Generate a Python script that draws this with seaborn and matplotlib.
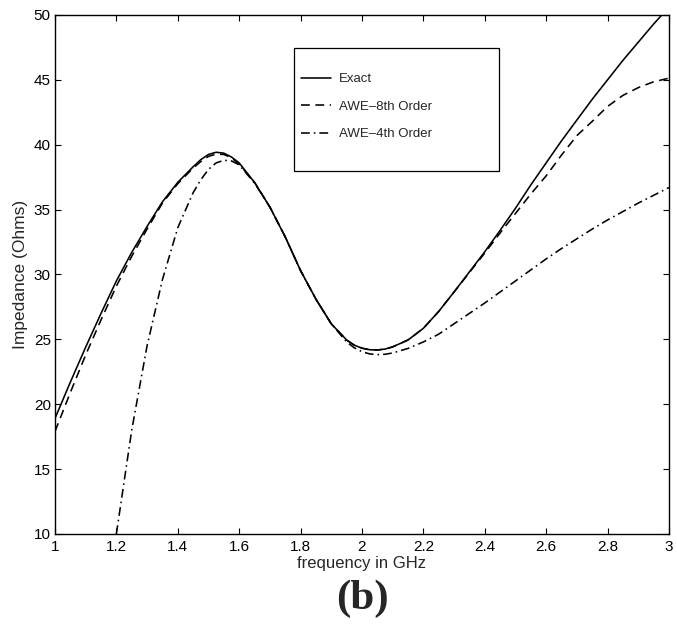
import numpy as np
import pandas as pd
import matplotlib
matplotlib.use("Agg")
import matplotlib.pyplot as plt
from matplotlib.patches import Rectangle
from matplotlib.lines import Line2D
import seaborn as sns

# ---------------- data ----------------
freq_exact = [1.00, 1.05, 1.10, 1.15, 1.20, 1.25, 1.30, 1.35, 1.40, 1.45,
              1.475, 1.50, 1.525, 1.55, 1.575, 1.60, 1.65, 1.70, 1.75, 1.80,
              1.85, 1.90, 1.95, 1.975, 2.00, 2.025, 2.05, 2.075, 2.10, 2.15,
              2.20, 2.25, 2.30, 2.35, 2.40, 2.45, 2.50, 2.55, 2.60, 2.65,
              2.70, 2.75, 2.80, 2.85, 2.90, 2.95, 3.00]
z_exact = [18.9, 21.7, 24.4, 27.0, 29.5, 31.7, 33.7, 35.6, 37.1, 38.3,
           38.85, 39.25, 39.42, 39.35, 39.05, 38.6, 37.1, 35.2, 32.9, 30.3,
           28.1, 26.2, 24.95, 24.55, 24.32, 24.2, 24.18, 24.25, 24.42, 24.95,
           25.85, 27.15, 28.65, 30.2, 31.75, 33.4, 35.1, 36.9, 38.6, 40.3,
           41.9, 43.5, 45.0, 46.5, 47.9, 49.3, 50.6]

freq_awe8 = [1.00, 1.05, 1.10, 1.15, 1.20, 1.25, 1.30, 1.35, 1.40, 1.45,
             1.475, 1.50, 1.525, 1.55, 1.575, 1.60, 1.65, 1.70, 1.75, 1.80,
             1.85, 1.90, 1.95, 1.975, 2.00, 2.025, 2.05, 2.075, 2.10, 2.15,
             2.20, 2.25, 2.30, 2.35, 2.40, 2.45, 2.50, 2.55, 2.60, 2.65,
             2.70, 2.75, 2.80, 2.85, 2.90, 2.95, 3.00]
z_awe8 = [17.9, 20.9, 23.8, 26.5, 29.1, 31.4, 33.5, 35.5, 37.0, 38.2,
          38.7, 39.1, 39.28, 39.25, 39.0, 38.5, 37.1, 35.2, 32.9, 30.3,
          28.1, 26.2, 24.95, 24.55, 24.32, 24.2, 24.18, 24.25, 24.42, 24.95,
          25.85, 27.15, 28.65, 30.15, 31.65, 33.2, 34.7, 36.2, 37.6, 39.2,
          40.7, 41.8, 42.95, 43.8, 44.4, 44.85, 45.13]

freq_awe4 = [1.20, 1.25, 1.30, 1.35, 1.40, 1.45, 1.475, 1.50, 1.525, 1.55,
             1.575, 1.60, 1.65, 1.70, 1.75, 1.80, 1.85, 1.90, 1.95, 1.975,
             2.00, 2.025, 2.05, 2.075, 2.10, 2.15, 2.20, 2.25, 2.30, 2.35,
             2.40, 2.45, 2.50, 2.55, 2.60, 2.65, 2.70, 2.75, 2.80, 2.85,
             2.90, 2.95, 3.00]
z_awe4 = [10.0, 18.0, 24.5, 29.6, 33.6, 36.3, 37.3, 38.1, 38.6, 38.8,
          38.75, 38.45, 37.05, 35.2, 32.9, 30.3, 28.1, 26.2, 24.8, 24.35,
          24.05, 23.88, 23.82, 23.85, 23.95, 24.3, 24.8, 25.4, 26.2, 27.0,
          27.8, 28.65, 29.5, 30.35, 31.2, 32.0, 32.75, 33.5, 34.2, 34.85,
          35.5, 36.1, 36.7]

series_names = ["Exact", "AWE\u20138th Order", "AWE\u20134th Order"]
x_ticks = [1, 1.2, 1.4, 1.6, 1.8, 2, 2.2, 2.4, 2.6, 2.8, 3]
x_ticklabels = ["1", "1.2", "1.4", "1.6", "1.8", "2", "2.2", "2.4", "2.6", "2.8", "3"]
y_ticks = [10, 15, 20, 25, 30, 35, 40, 45, 50]

df = pd.concat([
    pd.DataFrame({"f": freq_exact, "z": z_exact, "s": series_names[0]}),
    pd.DataFrame({"f": freq_awe8, "z": z_awe8, "s": series_names[1]}),
    pd.DataFrame({"f": freq_awe4, "z": z_awe4, "s": series_names[2]}),
], ignore_index=True)

# ---------------- style ----------------
sns.set_style("ticks")
plt.rcParams["font.family"] = ["Liberation Sans", "DejaVu Sans"]

fig = plt.figure(figsize=(6.77, 6.32), dpi=100)
ax = fig.add_axes([0.0812, 0.1551, 0.9069, 0.8212])

dash_map = {series_names[0]: "",
            series_names[1]: (5.5, 3.5),
            series_names[2]: (5.5, 2.5, 1, 2.5)}

sns.lineplot(data=df, x="f", y="z", style="s", dashes=dash_map,
             color="black", linewidth=1.15, legend=False, ax=ax,
             estimator=None, sort=False)

ax.set_xlim(1, 3)
ax.set_ylim(10, 50)
ax.set_xticks(x_ticks)
ax.set_xticklabels(x_ticklabels)
ax.set_yticks(y_ticks)
ax.tick_params(direction="in", length=4.5, width=0.8, top=True, right=True,
               labelsize=11, colors="black", pad=4)
ax.tick_params(axis="y", pad=3)
for sp in ax.spines.values():
    sp.set_visible(True)
    sp.set_color("black")
    sp.set_linewidth(1.0)

ax.set_xlabel("frequency in GHz", fontsize=12, labelpad=2)
ax.set_ylabel("Impedance (Ohms)", fontsize=12.5, labelpad=4)

# legend
handles = [Line2D([], [], color="black", lw=1.15, linestyle="-"),
           Line2D([], [], color="black", lw=1.15, dashes=dash_map[series_names[1]]),
           Line2D([], [], color="black", lw=1.15, dashes=dash_map[series_names[2]])]
leg = ax.legend(handles, series_names, loc="upper left",
                bbox_to_anchor=(0.4007, 0.888), frameon=False,
                fontsize=9.5, handlelength=2.3, handletextpad=0.6,
                labelspacing=1.15, borderpad=0, borderaxespad=0)
ax.add_patch(Rectangle((0.389, 0.699), 0.334, 0.237, transform=ax.transAxes,
                       fill=False, edgecolor="black", linewidth=0.9, zorder=5))

fig.text(0.535, 0.053, "(b)", ha="center", va="center",
         fontfamily=["Liberation Serif", "DejaVu Serif"], fontweight="bold",
         fontsize=31)

fig.savefig("out.png", dpi=100, facecolor="white")
